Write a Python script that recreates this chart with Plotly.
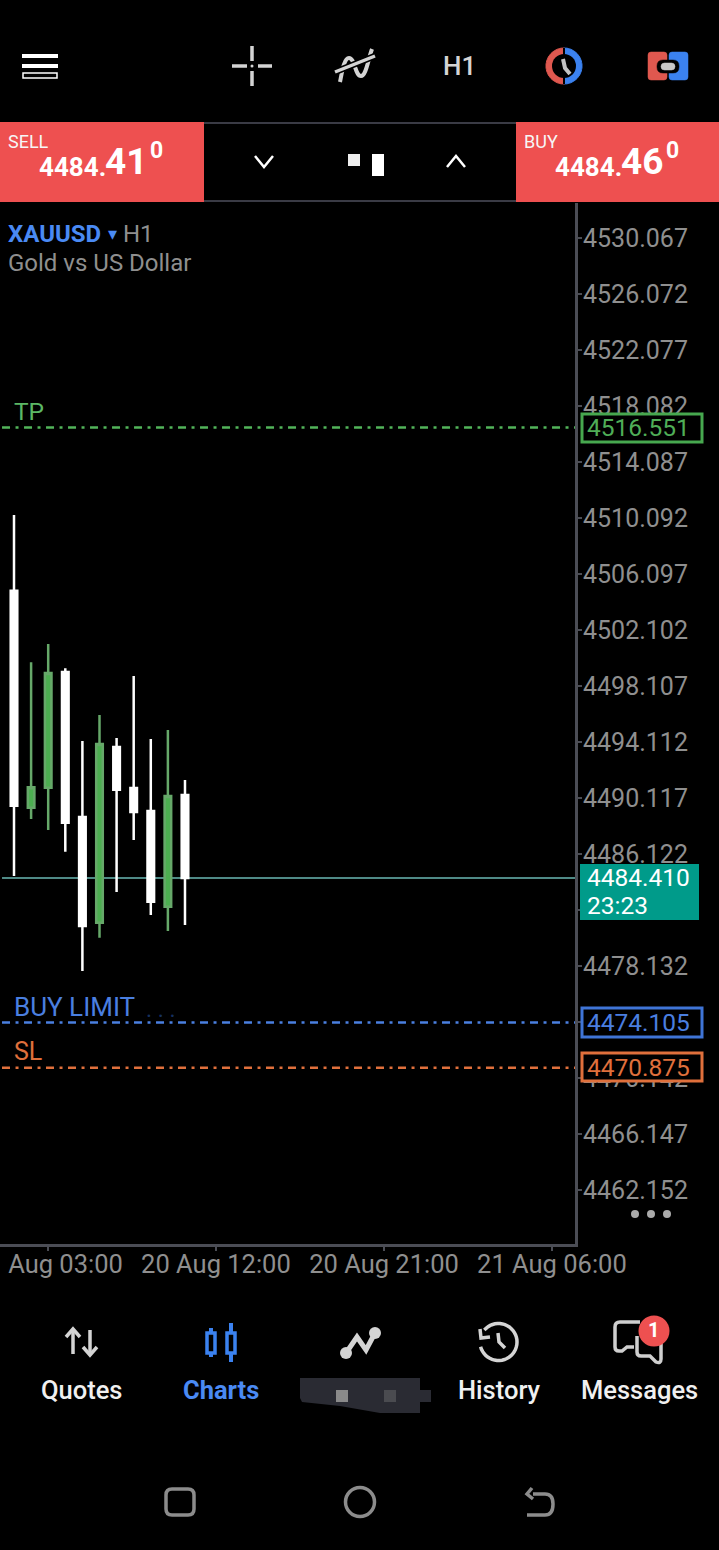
import numpy as np
import plotly.graph_objects as go

# candles (white = down, green = up)
candle_pos = [0, 1, 2, 3, 4, 5, 6, 7, 8, 9, 10]
opens = [4504.91, 4489.43, 4490.85, 4499.11, 4488.76, 4481.22, 4493.76, 4490.83, 4489.19, 4482.36, 4490.33]
highs = [4510.31, 4499.80, 4501.11, 4499.37, 4494.19, 4496.04, 4494.40, 4498.82, 4494.33, 4494.97, 4491.40]
lows = [4484.55, 4488.62, 4487.84, 4486.29, 4477.78, 4480.15, 4483.41, 4487.12, 4481.77, 4480.63, 4481.06]
closes = [4489.57, 4490.88, 4499.04, 4488.36, 4480.99, 4493.97, 4490.71, 4489.12, 4482.72, 4490.26, 4484.41]

price_ticks = [4530.067, 4526.072, 4522.077, 4518.082, 4514.087, 4510.092, 4506.097, 4502.102, 4498.107,
               4494.112, 4490.117, 4486.122, 4482.127, 4478.132, 4474.137, 4470.142, 4466.147, 4462.152]
time_tick_pos = [1.99, 11.81, 21.64, 31.46]
time_ticks = ["20 Aug 03:00", "20 Aug 12:00", "20 Aug 21:00", "21 Aug 06:00"]

tp_level = 4516.551
buy_limit_level = 4474.105
sl_level = 4470.875
last_price = 4484.410

W, H = 719, 1550
PLOT_R, PLOT_T, PLOT_B = 575, 203, 1243.5
GREEN, BLUE, ORANGE, RED = "#52b45a", "#3f74d6", "#e0703c", "#ee5050"
ICON = "#d4d4d4"
GREY = "#8f8f8f"
LEVEL_DASH = "8px,5.5px,3px,5.5px"

shapes = []
notes = []


def rect(x0, y0, x1, y1, fill=None, line=None, lw=0):
    shapes.append(dict(type="rect", xref="x2", yref="y2", x0=x0, y0=y0, x1=x1, y1=y1, layer="above",
                       fillcolor=fill or "rgba(0,0,0,0)", line=dict(color=line or "rgba(0,0,0,0)", width=lw)))


def circle(cx, cy, r, fill=None, line=None, lw=0):
    shapes.append(dict(type="circle", xref="x2", yref="y2", x0=cx - r, y0=cy - r, x1=cx + r, y1=cy + r, layer="above",
                       fillcolor=fill or "rgba(0,0,0,0)", line=dict(color=line or "rgba(0,0,0,0)", width=lw)))


def path(d, line=ICON, lw=3, fill=None):
    shapes.append(dict(type="path", xref="x2", yref="y2", path=d, layer="above",
                       fillcolor=fill or "rgba(0,0,0,0)", line=dict(color=line, width=lw)))


def poly(pts, close=False):
    return "M " + " L ".join(f"{x:.1f} {y:.1f}" for x, y in pts) + (" Z" if close else "")


def arc(cx, cy, r, a0, a1):
    # plotly paths have no A command, so arcs go in as short polylines
    t = np.radians(np.linspace(a0, a1, 40))
    return poly(list(zip(cx + r * np.cos(t), cy + r * np.sin(t))))


def rrect(x0, y0, x1, y1, r):
    return (f"M {x0 + r} {y0} L {x1 - r} {y0} Q {x1} {y0} {x1} {y0 + r} L {x1} {y1 - r} Q {x1} {y1} {x1 - r} {y1} "
            f"L {x0 + r} {y1} Q {x0} {y1} {x0} {y1 - r} L {x0} {y0 + r} Q {x0} {y0} {x0 + r} {y0} Z")


def text(x, y, s, size, color, anchor="left", weight=400):
    if anchor == "left":
        x -= 1
    notes.append(dict(xref="x2", yref="y2", x=x, y=y, text=s, showarrow=False, xanchor=anchor, yanchor="middle",
                      font=dict(size=size, color=color, family="Roboto", weight=weight), borderpad=0))


fig = go.Figure()
fig.add_trace(go.Candlestick(
    x=candle_pos, open=opens, high=highs, low=lows, close=closes,
    increasing=dict(line=dict(color="#66a869", width=2.5), fillcolor="#4caf50"),
    decreasing=dict(line=dict(color="#ffffff", width=2.5), fillcolor="#ffffff"),
    whiskerwidth=0, hoverinfo="skip", showlegend=False))
# empty trace so the pixel axes for the app chrome exist
fig.add_trace(go.Scatter(x=[None], y=[None], xaxis="x2", yaxis="y2", showlegend=False, hoverinfo="skip"))

# price lines
for level, col, dash, lw in [(tp_level, GREEN, LEVEL_DASH, 2.5),
                             (buy_limit_level, "#4a7fe0", LEVEL_DASH, 2.5),
                             (sl_level, ORANGE, LEVEL_DASH, 2.5),
                             (last_price, "#4f8a86", "solid", 2)]:
    shapes.append(dict(type="line", xref="x", yref="y", x0=-0.7, x1=32.81, y0=level, y1=level,
                       layer="below", line=dict(color=col, width=lw, dash=dash)))

text(14, 411, "TP", 24.5, "#5cb865")
text(14, 1007, "BUY LIMIT", 26, "#4a7fe0")
text(146, 1009, ". . .", 23, "#16305f")
text(14, 1051, "SL", 25, ORANGE)

# price tags, these cover the axis labels under them
rect(582, 414, 702, 442, fill="#000000", line="#47a84f", lw=3)
text(587, 427, f"{tp_level:.3f}", 24.5, "#4fae57")
rect(580, 864, 699, 920, fill="#009b8a")
text(587, 877, f"{last_price:.3f}", 24.5, "#ffffff")
text(587, 905, "23:23", 24.5, "#ffffff")
rect(582, 1008, 702, 1037, fill="#000000", line=BLUE, lw=3)
text(587, 1022, f"{buy_limit_level:.3f}", 24.5, "#4a7fe0")
rect(582, 1053, 702, 1081, fill="#000000", line=ORANGE, lw=3)
text(587, 1067, f"{sl_level:.3f}", 24.5, ORANGE)

for cx in [635, 651, 667]:
    circle(cx, 1214, 4, fill="#aaaaaa")

# the first time label runs off the screen, nothing of its day number shows
rect(0, 1250, 6, 1280, fill="#000000")

# chart title
text(8, 234, "XAUUSD", 24, "#4a8af4", weight=700)
text(108, 233, "▾", 18, "#4a8af4")
text(123, 234, "H1", 24, GREY)
text(8, 263, "Gold vs US Dollar", 24, GREY)

# top toolbar
rect(22, 54, 58, 58, fill="#ffffff")
rect(22, 64, 58, 68, fill="#ffffff")
rect(23, 73, 57, 78, line="#ffffff", lw=1.5)
for seg in [(232, 66, 247, 66), (258, 66, 272, 66), (252, 46, 252, 61), (252, 71, 252, 86)]:
    path(poly([seg[:2], seg[2:]]), lw=3.5)
circle(252, 66, 1.5, fill=ICON)
path("M 340 82 C 342 72 344 58 349 58 C 355 58 355 76 361 76 C 366 76 368 60 372 49", lw=4)
path(poly([(335, 72), (375, 56)]), line="#000000", lw=6.5)
path(poly([(335, 72), (375, 56)]), lw=3.5)
text(459, 66, "H1", 26, ICON, "center", 500)
path(arc(564, 66, 18, 90, 270) + " Z", line="#e0584f", lw=1, fill="#e0584f")
path(arc(564, 66, 18, -90, 90) + " Z", line="#3b82f0", lw=1, fill="#3b82f0")
circle(564, 66, 12, fill="#000000")
rect(563, 48, 565, 84, fill="#000000")
path(poly([(563, 59), (565, 68), (570, 74)]), line="#c4c4c4", lw=4)
path(rrect(648, 52, 667, 80, 3), line="#e0584f", lw=0.5, fill="#e0584f")
path(rrect(669, 52, 688, 80, 3), line="#3b82f0", lw=0.5, fill="#3b82f0")
path(rrect(657, 60, 679, 73, 6), line="#000000", lw=0.5, fill="#000000")
path(rrect(661, 63, 675, 70, 3.5), line="#c8c8c8", lw=0.5, fill="#c8c8c8")

# sell / buy bar
rect(0, 122, 204, 202, fill=RED)
rect(516, 122, 719, 202, fill=RED)
rect(204, 122, 516, 124, fill="#3a3b45")
rect(204, 200, 516, 202, fill="#3a3b45")
text(8, 141, "SELL", 18, "#f6f6f6")
text(39, 167, "4484.", 26, "#ffffff", weight=700)
text(105, 161, "41", 37, "#ffffff", weight=700)
text(150, 150, "0", 23, "#ffffff", weight=700)
text(524, 141, "BUY", 18, "#f6f6f6")
text(555, 167, "4484.", 26, "#ffffff", weight=700)
text(621, 161, "46", 37, "#ffffff", weight=700)
text(666, 150, "0", 23, "#ffffff", weight=700)
path(poly([(255, 156), (264, 167), (273, 156)]), line="#ffffff", lw=2.5)
path(poly([(447, 167), (456, 156), (465, 167)]), line="#ffffff", lw=2.5)
rect(348, 154, 360, 166, fill="#eeeeee")
rect(372, 154, 384, 176, fill="#ffffff")

# bottom tabs
text(82, 1390, "Quotes", 25.5, "#f0f0f0", "center", 500)
text(221, 1390, "Charts", 25.5, "#4a8af4", "center", 700)
text(499, 1390, "History", 25.5, "#f0f0f0", "center", 500)
text(639, 1390, "Messages", 25.5, "#f0f0f0", "center", 500)

path(poly([(73, 1354), (73, 1329)]), lw=3.5)
path(poly([(66, 1337), (73, 1329), (80, 1337)]), lw=3.5)
path(poly([(90, 1330), (90, 1355)]), lw=3.5)
path(poly([(83, 1347), (90, 1355), (97, 1347)]), lw=3.5)

for cx, top, bot in [(211, 1328, 1357), (231, 1323, 1362)]:
    path(poly([(cx, top), (cx, bot)]), line="#3b82f0", lw=4)
    rect(cx - 4, 1333, cx + 4, 1353, fill="#000000", line="#3b82f0", lw=3.5)

path(poly([(346, 1353), (357, 1337), (366, 1350), (375, 1333)]), lw=5)
circle(346, 1353, 6, fill=ICON)
circle(375, 1333, 6, fill=ICON)

path(arc(498.5, 1342, 18.5, -140, 165), lw=3.5)
path(poly([(480, 1329), (481, 1338), (490, 1337)]), lw=3.5)
path(poly([(498, 1333), (499, 1342), (505, 1348)]), lw=3.5)

path("M 640 1322 L 620 1322 Q 615 1322 615 1327 L 615 1347 Q 615 1351 619 1351 L 622 1351 L 627 1347 L 634 1347",
     line="#cfcfcf", lw=3.5)
path("M 637 1336 L 637 1352 Q 637 1356 641 1356 L 650 1356 L 656 1362 Q 661 1364 661 1359 L 661 1337",
     line="#cfcfcf", lw=3.5)
circle(654, 1331, 15.5, fill=RED)
text(653, 1330, "1", 20, "#ffffff", "center", 700)

# scribbled out tab label
path(poly([(300, 1378), (420, 1378), (420, 1390), (431, 1390), (431, 1402), (420, 1402), (420, 1413),
           (380, 1413), (340, 1406), (302, 1402), (300, 1398)], close=True), line="#2a2b33", lw=0, fill="#2a2b33")
rect(336, 1390, 348, 1402, fill="#8a8a8a")
rect(384, 1390, 396, 1402, fill="#4a4b50")

# android nav bar
path(rrect(166, 1489, 194, 1515, 6), line="#8c8c8c", lw=3.5)
circle(360, 1502, 14.5, line="#8c8c8c", lw=3.5)
path("M 533 1494 L 545 1494 Q 553 1494 553 1504 Q 553 1515 545 1515 L 527 1515", line="#8c8c8c", lw=3.5)
path(poly([(532, 1488), (527, 1494), (533, 1499)]), line="#8c8c8c", lw=3.5)

fig.update_layout(
    template="none",
    width=W, height=H, autosize=False, margin=dict(l=0, r=0, t=0, b=0),
    paper_bgcolor="#000000", plot_bgcolor="rgba(0,0,0,0)", showlegend=False, hovermode=False,
    boxgap=0.45, shapes=shapes, annotations=notes,
    xaxis=dict(domain=[0, PLOT_R / W], range=[-0.819, 32.81], rangeslider=dict(visible=False), showgrid=False,
               zeroline=False, tickmode="array", tickvals=time_tick_pos, ticktext=time_ticks, ticks="outside",
               ticklen=4, tickwidth=2, tickcolor="#4b4d55", tickfont=dict(family="Roboto", size=25.5, color=GREY),
               ticklabelstandoff=-8, ticklabeloverflow="allow",
               showline=True, linecolor="#4b4d55", linewidth=3, anchor="y", automargin=False),
    yaxis=dict(domain=[1 - PLOT_B / H, 1 - PLOT_T / H], range=[4458.34, 4532.564], side="right", showgrid=False,
               zeroline=False, tickmode="array", tickvals=price_ticks, ticktext=[f"{v:.3f}" for v in price_ticks],
               ticks="outside", ticklen=4, tickwidth=2, tickcolor="#4b4d55",
               tickfont=dict(family="Roboto", size=25, color=GREY), ticklabelstandoff=-4,
               showline=True, linecolor="#4b4d55", linewidth=3, anchor="x", automargin=False),
    xaxis2=dict(domain=[0, 1], range=[0, W], visible=False, anchor="y2", fixedrange=True, automargin=False),
    yaxis2=dict(domain=[0, 1], range=[H, 0], visible=False, anchor="x2", fixedrange=True, automargin=False),
)

fig.write_html("out.html", config=dict(displayModeBar=False),
               post_script="document.body.style.margin='0';document.body.style.background='#000';"
                           "document.body.style.overflow='hidden';")
